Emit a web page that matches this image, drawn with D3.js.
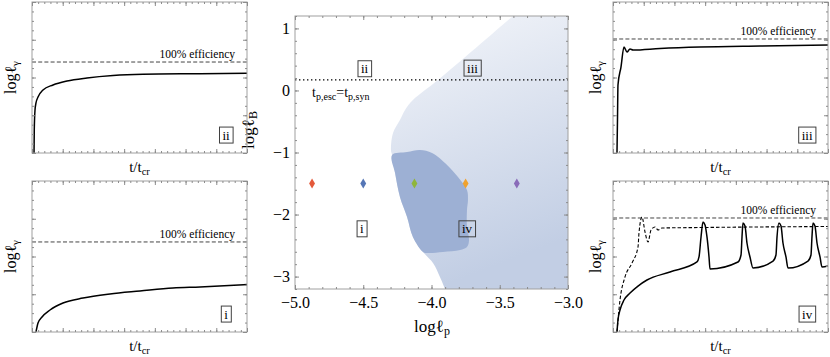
<!DOCTYPE html>
<html>
<head>
<meta charset="utf-8">
<script src="https://cdn.jsdelivr.net/npm/d3@7"></script>
<style>
  body { margin: 0; background: #fff; }
  svg, text { font-family: "Liberation Serif", "Times New Roman", "DejaVu Serif", serif; fill: #000; }
  .frame { fill: none; stroke: #a0a0a0; stroke-width: 1; }
  .tick line { stroke: #8c8c8c; }
</style>
</head>
<body>
<svg id="chart" width="830" height="357"></svg>
<script>
// ---- central panel data (log l_p , log l_B) ----
// upper-left edge of the light region, top to bottom
const lightEdge = [
  [-3.403, 1.2], [-3.952, 0.169], [-4.136, -0.154], [-4.194, -0.315], [-4.231, -0.476],
  [-4.282, -0.686], [-4.297, -0.960], [-4.289, -1.040], [-4.267, -1.330], [-4.231, -1.717],
  [-4.179, -2.039], [-4.136, -2.362], [-4.062, -2.603], [-3.989, -2.781], [-3.938, -3.006],
  [-3.901, -3.2]
];
// outline of the darker region (iv)
const darkRegion = [
  [-4.289, -1.040], [-4.179, -0.992], [-4.084, -0.960], [-3.996, -1.008], [-3.886, -1.201],
  [-3.806, -1.395], [-3.740, -1.604], [-3.733, -1.765], [-3.740, -1.927], [-3.740, -2.201],
  [-3.725, -2.410], [-3.740, -2.523], [-3.791, -2.571], [-3.916, -2.603], [-4.026, -2.620],
  [-4.062, -2.603], [-4.136, -2.362], [-4.179, -2.039], [-4.231, -1.717], [-4.267, -1.330]
];
const markerX = [-4.875, -4.5, -4.125, -3.75, -3.375];
const markerY = -1.5;
const markerColors = ["#e4593a", "#5576b6", "#8fb63a", "#f0a22e", "#8a6cb9"];
const escSynY = 0.17;
const regionLabels = [
  { t: "ii", x: -4.49, y: 0.35 },
  { t: "iii", x: -3.70, y: 0.36 },
  { t: "i", x: -4.51, y: -2.23 },
  { t: "iv", x: -3.74, y: -2.23 }
];
const xTicksMajor = [-5, -4.5, -4, -3.5, -3];
const yTicksMajor = [-3, -2, -1, 0, 1];

// ---- side panels (t/t_cr , log l_gamma), arbitrary units ----
const curveII = [
  [0.33, 0], [0.37, 2.44], [0.49, 4.56], [0.65, 5.30], [0.98, 5.93], [1.79, 6.68],
  [3.42, 7.21], [5.70, 7.63], [8.95, 7.95], [13.19, 8.21], [18.07, 8.34], [27.35, 8.40], [35, 8.45]
];
const curveI = [
  [0.65, 0], [0.98, 0.95], [1.63, 1.59], [2.93, 2.33], [5.05, 3.07], [8.30, 3.60],
  [12.70, 4.03], [17.58, 4.34], [22.95, 4.66], [27.35, 4.77], [35, 5.03]
];
const curveIII = [
  [0.65, 0], [0.73, 3.50], [0.81, 7.21], [1.30, 9.11], [1.79, 11.23], [2.28, 10.70],
  [2.77, 11.02], [3.26, 10.91], [7.65, 11.07], [14.16, 11.23], [23.93, 11.34], [35, 11.44]
];
const curveIVsolid = [
  [0.65, 0], [0.81, 1.27], [1.14, 2.33], [1.79, 3.39], [2.77, 4.13], [4.07, 4.87],
  [5.53, 5.51], [9.28, 6.36], [13.67, 7.42], [14.00, 7.95], [14.33, 10.07], [14.65, 11.66],
  [14.98, 11.34], [15.30, 10.07], [15.63, 7.95], [15.79, 6.68], [20.35, 7.42], [20.84, 8.16],
  [21.00, 10.07], [21.16, 11.55], [21.49, 11.23], [21.81, 9.43], [22.30, 7.95], [22.79, 6.78],
  [26.05, 7.52], [26.53, 8.16], [26.70, 10.07], [27.02, 11.55], [27.35, 11.23], [27.67, 9.43],
  [28.16, 7.95], [28.49, 6.78], [31.74, 7.52], [32.23, 8.16], [32.39, 10.07], [32.56, 11.55],
  [32.88, 11.23], [33.21, 9.43], [33.70, 7.95], [34.02, 6.89], [35, 6.99]
];
const curveIVdashed = [
  [0.65, 0], [1.14, 3.39], [1.95, 5.83], [3.09, 7.31], [4.07, 9.01], [4.23, 10.49],
  [4.72, 12.19], [5.21, 10.60], [5.70, 9.54], [6.19, 10.81], [6.84, 11.13], [7.33, 10.81],
  [7.98, 11.02], [14.16, 11.07], [35, 11.18]
];
const efficiencyLevel = { ii: 9.64, i: 9.54, iii: 12.08, iv: 12.08 };

const svg = d3.select("#chart");

// helper: text with subscript parts [[str, isSub]]
function richText(sel, parts, size, subSize) {
  parts.forEach(([s, sub]) => {
    const ts = sel.append("tspan").text(s);
    if (sub) ts.attr("font-size", subSize).attr("baseline-shift", "-28%");
    else ts.attr("font-size", size);
  });
  return sel;
}

function boxedLabel(g, x, y, t, size) {
  const txt = g.append("text").attr("x", x).attr("y", y).attr("dy", "0.35em")
    .attr("text-anchor", "middle").attr("font-size", size).text(t);
  const bb = txt.node().getBBox();
  g.insert("rect", "text").attr("x", bb.x - 3).attr("y", y - 8)
    .attr("width", bb.width + 6).attr("height", 16)
    .attr("fill", "none").attr("stroke", "#404040").attr("stroke-width", 1);
}

function frameTicks(g, x, y, xs, ys) {
  const [x0, x1] = x.range(), [y1, y0] = y.range();
  const fmt = () => "";
  [[d3.axisBottom, y1, x, xs], [d3.axisTop, y0, x, xs]].forEach(([ax, pos, sc, t]) => {
    g.append("g").attr("transform", `translate(0,${pos})`)
      .call(ax(sc).tickValues(t.minor).tickSizeInner(-2).tickSizeOuter(0).tickFormat(fmt));
    g.append("g").attr("transform", `translate(0,${pos})`)
      .call(ax(sc).tickValues(t.major).tickSizeInner(-4).tickSizeOuter(0).tickFormat(fmt));
  });
  [[d3.axisLeft, x0, y, ys], [d3.axisRight, x1, y, ys]].forEach(([ax, pos, sc, t]) => {
    g.append("g").attr("transform", `translate(${pos},0)`)
      .call(ax(sc).tickValues(t.minor).tickSizeInner(-2).tickSizeOuter(0).tickFormat(fmt));
    g.append("g").attr("transform", `translate(${pos},0)`)
      .call(ax(sc).tickValues(t.major).tickSizeInner(-4).tickSizeOuter(0).tickFormat(fmt));
  });
  g.selectAll(".domain").remove();
}

// ================= central panel =================
const sx = d3.scaleLinear().domain([-5, -3]).range([295, 568]);
const sy = d3.scaleLinear().domain([-3.2, 1.2]).range([289, 16]);

const defs = svg.append("defs");
const grad = defs.append("linearGradient").attr("id", "lightGrad")
  .attr("x1", 0).attr("y1", 0).attr("x2", 0.25).attr("y2", 1);
grad.append("stop").attr("offset", "0%").attr("stop-color", "#f4f6fa");
grad.append("stop").attr("offset", "100%").attr("stop-color", "#c2cee4");
defs.append("clipPath").attr("id", "centerClip").append("rect")
  .attr("x", sx(-5)).attr("y", sy(1.2)).attr("width", sx(-3) - sx(-5)).attr("height", sy(-3.2) - sy(1.2));

const center = svg.append("g");
const plot = center.append("g").attr("clip-path", "url(#centerClip)");

const edgeLine = d3.line().x(d => sx(d[0])).y(d => sy(d[1])).curve(d3.curveCatmullRom);
plot.append("path")
  .attr("d", edgeLine(lightEdge) + `L${sx(-3)},${sy(-3.2)}L${sx(-3)},${sy(1.2)}Z`)
  .attr("fill", "url(#lightGrad)");
plot.append("path")
  .attr("d", d3.line().x(d => sx(d[0])).y(d => sy(d[1])).curve(d3.curveCatmullRomClosed)(darkRegion))
  .attr("fill", "#9db0d4");

plot.append("line")
  .attr("x1", sx(-5)).attr("x2", sx(-3)).attr("y1", sy(escSynY)).attr("y2", sy(escSynY))
  .attr("stroke", "#000").attr("stroke-width", 1.4).attr("stroke-dasharray", "1.4,2.6");

plot.selectAll("path.marker").data(markerX).join("path")
  .attr("class", "marker")
  .attr("transform", d => `translate(${sx(d)},${sy(markerY)})`)
  .attr("d", d3.symbol(d3.symbolDiamond, 30))
  .attr("fill", (d, i) => markerColors[i]);

richText(center.append("text").attr("x", sx(-4.875)).attr("y", sy(-0.105)),
  [["t", false], ["p,esc", true], ["=t", false], ["p,syn", true]], 14, 10);

regionLabels.forEach(l => boxedLabel(center, sx(l.x), sy(l.y), l.t, 13));

center.append("rect").attr("class", "frame")
  .attr("x", sx(-5)).attr("y", sy(1.2)).attr("width", sx(-3) - sx(-5)).attr("height", sy(-3.2) - sy(1.2));

frameTicks(center, sx, sy,
  { major: xTicksMajor, minor: d3.range(-5, -2.99, 0.1) },
  { major: yTicksMajor, minor: d3.range(-3.2, 1.21, 0.2) });

center.append("g").attr("transform", `translate(0,${sy(-3.2)})`)
  .call(d3.axisBottom(sx).tickValues(xTicksMajor).tickSize(0).tickPadding(8).tickFormat(d3.format(".1f")))
  .call(g => g.select(".domain").remove())
  .selectAll("text").attr("font-size", 16).style("font-family", "Liberation Serif");
center.append("g").attr("transform", `translate(${sx(-5)},0)`)
  .call(d3.axisLeft(sy).tickValues(yTicksMajor).tickSize(0).tickPadding(5).tickFormat(d3.format("d")))
  .call(g => g.select(".domain").remove())
  .selectAll("text").attr("font-size", 16).style("font-family", "Liberation Serif");

richText(center.append("text").attr("x", 432).attr("y", 332).attr("text-anchor", "middle"),
  [["log", false], ["ℓ", false], ["p", true]], 17, 12);
richText(center.append("text").attr("transform", "translate(254,130) rotate(-90)").attr("text-anchor", "middle"),
  [["log", false], ["ℓ", false], ["B", true]], 17, 12);

// ================= side panels =================
const panels = [
  { key: "ii", x: [32, 247], y: [2, 153], curves: [{ d: curveII }] },
  { key: "i", x: [32, 247], y: [181, 332], curves: [{ d: curveI }] },
  { key: "iii", x: [613, 828], y: [2, 153], curves: [{ d: curveIII }] },
  { key: "iv", x: [613, 828], y: [181, 332], curves: [{ d: curveIVdashed, dash: true }, { d: curveIVsolid }] }
];

panels.forEach(p => {
  const x = d3.scaleLinear().domain([0, 35]).range(p.x);
  const y = d3.scaleLinear().domain([0, 16]).range([p.y[1], p.y[0]]);
  const g = svg.append("g");
  const line = d3.line().x(d => x(d[0])).y(d => y(d[1])).curve(d3.curveMonotoneX);

  const eff = efficiencyLevel[p.key];
  g.append("line").attr("x1", x(0)).attr("x2", x(35)).attr("y1", y(eff)).attr("y2", y(eff))
    .attr("stroke", "#444").attr("stroke-width", 1).attr("stroke-dasharray", "4,2.2");
  g.append("text").attr("x", x(33.05)).attr("y", y(eff)).attr("dy", -4)
    .attr("text-anchor", "end").attr("font-size", 11.5).text("100% efficiency");

  p.curves.forEach(c => {
    g.append("path").attr("d", line(c.d)).attr("fill", "none")
      .attr("stroke", "#000").attr("stroke-width", c.dash ? 1.1 : 1.5)
      .attr("stroke-dasharray", c.dash ? "3.5,2" : null);
  });

  boxedLabel(g, x(31.6), y(1.9), p.key, 13);

  g.append("rect").attr("class", "frame")
    .attr("x", p.x[0]).attr("y", p.y[0]).attr("width", p.x[1] - p.x[0]).attr("height", p.y[1] - p.y[0]);
  frameTicks(g, x, y,
    { major: d3.range(0, 36, 5), minor: d3.range(0, 36, 1) },
    { major: d3.range(0, 17, 4), minor: d3.range(0, 17, 1) });

  const cx = (p.x[0] + p.x[1]) / 2;
  richText(g.append("text").attr("x", cx).attr("y", p.y[1] + 19).attr("text-anchor", "middle"),
    [["t/t", false], ["cr", true]], 15, 10.5);
  const lx = p.x[0] < 100 ? 16 : 601;
  richText(g.append("text").attr("transform", `translate(${lx},${(p.y[0] + p.y[1]) / 2}) rotate(-90)`)
    .attr("text-anchor", "middle"),
    [["log", false], ["ℓ", false], ["γ", true]], 16, 11);
});
</script>
</body>
</html>
